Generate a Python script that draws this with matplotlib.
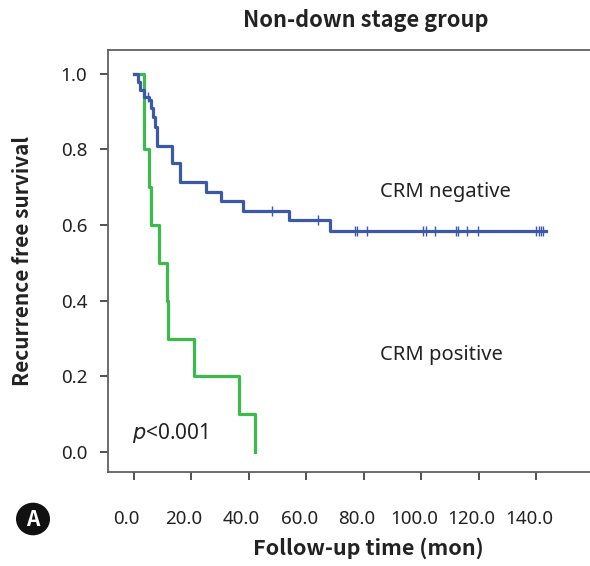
import numpy as np
import matplotlib.pyplot as plt
import matplotlib.transforms as mtransforms
from matplotlib.patches import Circle

plt.rcParams['font.family'] = ['Noto Sans', 'DejaVu Sans']
head_font = ['Noto Sans CJK KR', 'DejaVu Sans']

# CRM negative (blue) step curve: event times and survival after each step
neg_t = [0, 1.7, 2.4, 3.5, 5.2, 6.0, 6.6, 7.6, 8.3, 13.5, 16.0, 25.3, 30.5, 38.2, 54.0, 68.3, 143.5]
neg_s = [1.0, 0.979, 0.958, 0.94, 0.93, 0.91, 0.886, 0.86, 0.81, 0.765, 0.714, 0.688, 0.664, 0.638, 0.614, 0.585, 0.585]
neg_cens = [5.0, 48.0, 64.0, 77.0, 77.7, 81.0, 100.5, 101.6, 104.7, 112.0, 112.7, 116.0, 119.6, 140.0, 141.0, 141.8, 142.5]

# CRM positive (green)
pos_t = [0, 3.5, 5.3, 6.2, 8.7, 11.7, 12.0, 21.0, 36.5, 42.3]
pos_s = [1.0, 0.8, 0.7, 0.6, 0.5, 0.4, 0.3, 0.2, 0.1, 0.0]

xticks = [0, 20, 40, 60, 80, 100, 120, 140]
yticks = [0.0, 0.2, 0.4, 0.6, 0.8, 1.0]

blue = '#3c58a8'
green = '#3cba4c'
txt = '#222222'

fig = plt.figure(figsize=(5.9, 5.66), dpi=100)
ax = fig.add_axes([108/590, 1 - 472/566, 1 - 108/590, (472 - 50)/566])

ax.step(neg_t, neg_s, where='post', color=blue, lw=2.3, zorder=3)
ax.step(pos_t, pos_s, where='post', color=green, lw=2.3, zorder=2)


def surv_at(t):
    i = np.searchsorted(neg_t, t, side='right') - 1
    return neg_s[i]


ax.plot(neg_cens, [surv_at(t) for t in neg_cens], ls='none', marker='|',
        color=blue, ms=7, mew=1.0, zorder=4)

ax.set_xlim(-8.9, 158.7)
ax.set_ylim(-0.053, 1.063)
ax.set_xticks(xticks)
ax.set_xticklabels(['%.1f' % v for v in xticks])
ax.set_yticks(yticks)
ax.set_yticklabels(['%.1f' % v for v in yticks])
ax.spines['right'].set_visible(False)
for s in ['left', 'bottom', 'top']:
    ax.spines[s].set_color('#606060')
    ax.spines[s].set_linewidth(1.3)
ax.tick_params(axis='x', length=6, width=1.2, color='#333333', pad=21,
               labelsize=13.5, labelcolor=txt)
ax.tick_params(axis='y', length=6, width=1.2, color='#333333', pad=9,
               labelsize=13.5, labelcolor=txt)
off = mtransforms.ScaledTranslation(-5/72, 0, fig.dpi_scale_trans)
for lab in ax.get_xticklabels():
    lab.set_transform(lab.get_transform() + off)

ax.text(85.7, 0.688, 'CRM negative', fontsize=14.5, color=txt, va='center')
ax.text(85.7, 0.257, 'CRM positive', fontsize=14.5, color=txt, va='center')
ax.text(-0.5, 0.05, r'$\it{p}$<0.001', fontsize=15, color=txt, va='center')

fig.text(366/590, 1 - 21/566, 'Non-down stage group', fontsize=15.7, fontweight='bold',
         family=head_font, color=txt, ha='center', va='center')
fig.text(368/590, 1 - 548/566, 'Follow-up time (mon)', fontsize=15.5, fontweight='bold',
         family=head_font, color=txt, ha='center', va='center')
fig.text(23/590, 1 - 261/566, 'Recurrence free survival', fontsize=15, fontweight='bold',
         family=head_font, color=txt, ha='center', va='center', rotation=90)

circ = Circle((33/590, 1 - 519/566), 17/590, transform=fig.transFigure,
              facecolor='#111111', edgecolor='none')
fig.patches.append(circ)
fig.text(33/590, 1 - 519/566, 'A', fontsize=15, fontweight='bold', family=head_font,
         color='white', ha='center', va='center')

fig.savefig('out.png', dpi=100)
